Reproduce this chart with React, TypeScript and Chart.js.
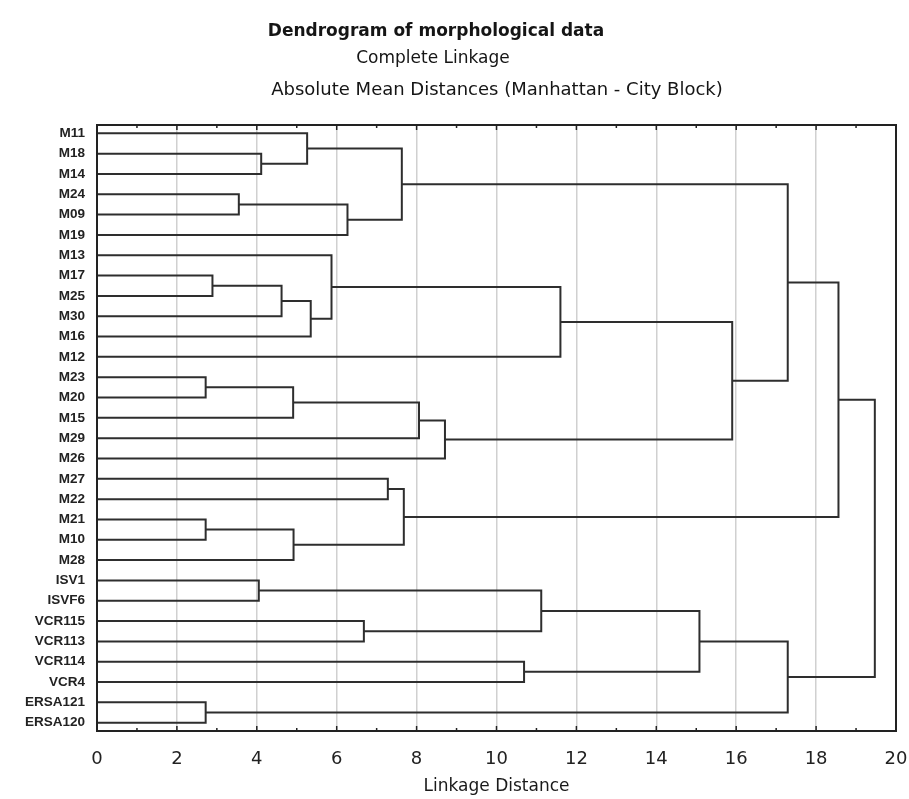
import React, { useEffect, useRef } from 'react';
import { Chart, registerables } from 'chart.js';

Chart.register(...registerables);

// Leaves (top to bottom)
const leafLabels = ['M11', 'M18', 'M14', 'M24', 'M09', 'M19', 'M13', 'M17', 'M25', 'M30', 'M16', 'M12', 'M23', 'M20', 'M15', 'M29', 'M26', 'M27', 'M22', 'M21', 'M10', 'M28', 'ISV1', 'ISVF6', 'VCR115', 'VCR113', 'VCR114', 'VCR4', 'ERSA121', 'ERSA120'];

// Merges: new cluster id = leafLabels.length + merge index
const mergeLeft = [1, 0, 3, 32, 31, 7, 35, 36, 6, 38, 12, 40, 41, 42, 39, 34, 17, 19, 47, 46, 45, 22, 24, 51, 26, 53, 28, 55, 50];
const mergeRight = [2, 30, 4, 5, 33, 8, 9, 10, 37, 11, 13, 14, 15, 16, 43, 44, 18, 20, 21, 48, 49, 23, 25, 52, 27, 54, 29, 56, 57];
const mergeHeight = [4.11, 5.26, 3.55, 6.27, 7.63, 2.89, 4.62, 5.35, 5.87, 11.6, 2.72, 4.91, 8.06, 8.71, 15.9, 17.29, 7.28, 2.72, 4.92, 7.68, 18.56, 4.05, 6.68, 11.12, 10.69, 15.08, 2.72, 17.29, 19.47];

// Axis
const xTickValues = [0, 2, 4, 6, 8, 10, 12, 14, 16, 18, 20];

const titleMain = 'Dendrogram of morphological data';
const titleSub1 = 'Complete Linkage';
const titleSub2 = 'Absolute Mean Distances (Manhattan - City Block)';
const xTitle = 'Linkage Distance';

function buildSegments() {
  const pos: number[] = leafLabels.map((_, i) => i);
  const hgt: number[] = leafLabels.map(() => 0);
  const pts: { x: number; y: number | null }[] = [];
  mergeHeight.forEach((h, k) => {
    const a = mergeLeft[k];
    const b = mergeRight[k];
    pts.push({ x: hgt[a], y: pos[a] });
    pts.push({ x: h, y: pos[a] });
    pts.push({ x: h, y: pos[b] });
    pts.push({ x: hgt[b], y: pos[b] });
    pts.push({ x: hgt[b], y: null });
    pos.push((pos[a] + pos[b]) / 2);
    hgt.push(h);
  });
  return pts;
}

const framePlugin = {
  id: 'frameAndTitles',
  beforeDraw(chart: any) {
    const { ctx, width, height } = chart;
    ctx.save();
    ctx.fillStyle = '#ffffff';
    ctx.fillRect(0, 0, width, height);
    ctx.restore();
  },
  afterDatasetsDraw(chart: any) {
    const { ctx, chartArea } = chart;
    const xs = chart.scales.x;
    ctx.save();
    ctx.strokeStyle = '#222222';
    ctx.lineWidth = 2;
    ctx.strokeRect(chartArea.left, chartArea.top, chartArea.right - chartArea.left, chartArea.bottom - chartArea.top);
    ctx.lineWidth = 1.5;
    for (let v = 0; v <= 20; v++) {
      const px = xs.getPixelForValue(v);
      const len = v % 2 === 0 ? 5 : 3;
      ctx.beginPath();
      ctx.moveTo(px, chartArea.bottom);
      ctx.lineTo(px, chartArea.bottom - len);
      ctx.moveTo(px, chartArea.top);
      ctx.lineTo(px, chartArea.top + len);
      ctx.stroke();
    }
    ctx.restore();
  },
  afterDraw(chart: any) {
    const { ctx } = chart;
    ctx.save();
    ctx.fillStyle = '#151515';
    ctx.textAlign = 'center';
    ctx.textBaseline = 'alphabetic';
    ctx.font = 'bold 17px "DejaVu Sans"';
    ctx.fillText(titleMain, 436, 36);
    ctx.font = '17px "DejaVu Sans"';
    ctx.fillText(titleSub1, 433, 63);
    ctx.font = '18px "DejaVu Sans"';
    ctx.fillText(titleSub2, 497, 95);
    ctx.restore();
  },
};

export default function App() {
  const ref = useRef<HTMLCanvasElement | null>(null);
  useEffect(() => {
    if (!ref.current) return;
    const chart = new Chart(ref.current, {
      type: 'scatter',
      data: {
        datasets: [
          {
            data: buildSegments() as any,
            showLine: true,
            spanGaps: false,
            borderColor: '#2e2e2e',
            borderWidth: 2,
            pointRadius: 0,
            pointHoverRadius: 0,
            tension: 0,
            borderJoinStyle: 'miter',
            borderCapStyle: 'butt',
          } as any,
        ],
      },
      options: {
        animation: false,
        responsive: false,
        devicePixelRatio: 1,
        events: [],
        layout: { padding: { left: 0, right: 13, top: 125, bottom: 0 } },
        plugins: {
          legend: { display: false },
          tooltip: { enabled: false },
          title: { display: false },
        },
        scales: {
          x: {
            type: 'linear',
            position: 'bottom',
            min: 0,
            max: 20,
            afterBuildTicks: (s: any) => {
              s.ticks = xTickValues.map((v) => ({ value: v }));
            },
            afterFit: (s: any) => {
              s.height = 68;
              s.paddingLeft = 0;
              s.paddingRight = 0;
            },
            ticks: {
              autoSkip: false,
              maxRotation: 0,
              padding: 18,
              color: '#222',
              font: { family: 'DejaVu Sans', size: 18 },
              callback: (v: any) => String(v),
            },
            grid: {
              drawTicks: false,
              lineWidth: 1.5,
              color: (c: any) => {
                const v = c.tick ? c.tick.value : 0;
                return v > 0 && v < 20 ? '#d0d0d0' : 'rgba(0,0,0,0)';
              },
            },
            border: { display: false },
            title: {
              display: true,
              text: xTitle,
              color: '#1a1a1a',
              font: { family: 'DejaVu Sans', size: 17 },
              padding: { top: 2, bottom: 2 },
            },
          },
          y: {
            type: 'linear',
            reverse: true,
            min: -0.41,
            max: 29.41,
            afterBuildTicks: (s: any) => {
              s.ticks = leafLabels.map((_, i) => ({ value: i }));
            },
            afterFit: (s: any) => {
              s.width = 97;
              s.paddingTop = 0;
              s.paddingBottom = 0;
            },
            ticks: {
              autoSkip: false,
              padding: 12,
              color: '#222',
              font: { family: 'Liberation Sans', size: 13.5, weight: 'bold' },
              callback: (v: any) => leafLabels[Math.round(v)] ?? '',
            },
            grid: { display: false, drawTicks: false },
            border: { display: false },
          },
        },
      } as any,
      plugins: [framePlugin],
    });
    return () => chart.destroy();
  }, []);

  return (
    <div style={{ position: 'fixed', left: 0, top: 0, width: 909, height: 799, background: '#fff' }}>
      <canvas ref={ref} width={909} height={799} style={{ width: 909, height: 799, display: 'block' }} />
    </div>
  );
}
